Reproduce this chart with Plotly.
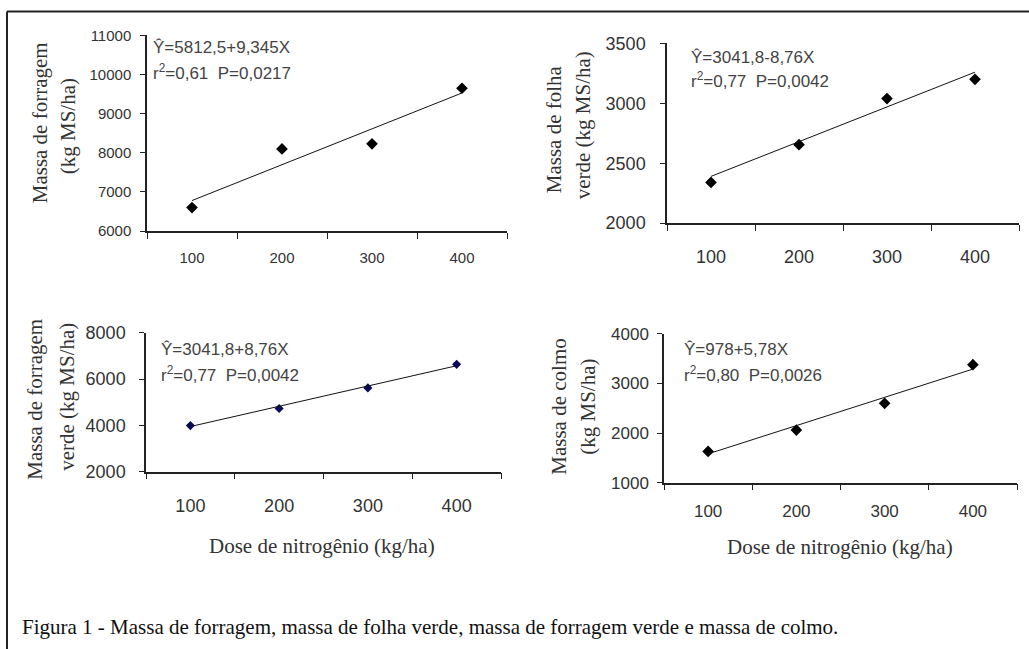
import plotly.graph_objects as go

# ---------------- data ----------------
doses = [100, 200, 300, 400]
massa_forragem = [6600, 8100, 8230, 9650]
massa_folha_verde = [2340, 2655, 3040, 3200]
massa_forragem_verde = [3990, 4730, 5620, 6640]
massa_colmo = [1630, 2060, 2600, 3380]

trend_x = [100, 400]
trend_forragem = [6780, 9530]
trend_folha_verde = [2390, 3260]
trend_forragem_verde = [3950, 6580]
trend_colmo = [1580, 3290]

x_tick_labels = ["100", "200", "300", "400"]

eq_forragem = ["Ŷ=5812,5+9,345X", "r<sup>2</sup>=0,61  P=0,0217"]
eq_folha_verde = ["Ŷ=3041,8-8,76X", "r<sup>2</sup>=0,77  P=0,0042"]
eq_forragem_verde = ["Ŷ=3041,8+8,76X", "r<sup>2</sup>=0,77  P=0,0042"]
eq_colmo = ["Ŷ=978+5,78X", "r<sup>2</sup>=0,80  P=0,0026"]

ytitle_forragem = ["Massa de forragem", "(kg MS/ha)"]
ytitle_folha_verde = ["Massa de folha", "verde (kg MS/ha)"]
ytitle_forragem_verde = ["Massa de forragem", "verde (kg MS/ha)"]
ytitle_colmo = ["Massa de colmo", "(kg MS/ha)"]

caption = "Figura 1 - Massa de forragem, massa de folha verde, massa de forragem verde e massa de colmo."
x_title = "Dose de nitrogênio (kg/ha)"

# ---------------- layout helpers ----------------
W, H = 1029, 649
SANS = "Arial, Liberation Sans, sans-serif"
SERIF = "Times New Roman, Liberation Serif, serif"
AXC = "#222222"

def px(x):
    return x / W

def py(y):
    # target screen pixel -> paper fraction (calibrated vertical mapping)
    return 1 - ((y - 9.5) / 0.971) / H

panels = [
    dict(xa="x", ya="y", box=(147, 507, 35, 231), yr=[6000, 11000], dt=1000,
         y=massa_forragem, t=trend_forragem, mc="#000000", ms=9, fs=15,
         eq=eq_forragem, eqpos=(151, 47, 72),
         yt=ytitle_forragem, ytpos=((40, 123), (68, 126)),
         xst=12, yst=6),
    dict(xa="x2", ya="y2", box=(667, 1019, 43, 223), yr=[2000, 3500], dt=500,
         y=massa_folha_verde, t=trend_folha_verde, mc="#000000", ms=9, fs=18,
         eq=eq_folha_verde, eqpos=(689, 57, 80),
         yt=ytitle_folha_verde, ytpos=((554, 129), (583, 125)),
         xst=17, yst=11),
    dict(xa="x3", ya="y3", box=(146, 501, 333, 472), yr=[2000, 8000], dt=2000,
         y=massa_forragem_verde, t=trend_forragem_verde, mc="#0a0a5a", ms=7, fs=18,
         eq=eq_forragem_verde, eqpos=(159, 350, 374),
         yt=ytitle_forragem_verde, ytpos=((35, 400), (67, 397)),
         xst=17, yst=10),
    dict(xa="x4", ya="y4", box=(664, 1017, 334, 483), yr=[1000, 4000], dt=1000,
         y=massa_colmo, t=trend_colmo, mc="#000000", ms=9, fs=17,
         eq=eq_colmo, eqpos=(682, 350, 374),
         yt=ytitle_colmo, ytpos=((559, 407), (588, 407)),
         xst=12, yst=5),
]

fig = go.Figure()
annotations = []
layout_axes = {}

for i, p in enumerate(panels):
    x0, x1, y0, y1 = p["box"]
    fig.add_trace(go.Scatter(
        x=doses, y=p["y"], mode="markers",
        marker=dict(symbol="diamond", size=p["ms"], color=p["mc"]),
        xaxis=p["xa"], yaxis=p["ya"], showlegend=False, hoverinfo="x+y"))
    fig.add_trace(go.Scatter(
        x=trend_x, y=p["t"], mode="lines",
        line=dict(color="#111111", width=1),
        xaxis=p["xa"], yaxis=p["ya"], showlegend=False, hoverinfo="skip"))

    suffix = "" if i == 0 else str(i + 1)
    layout_axes["xaxis" + suffix] = dict(
        domain=[px(x0), px(x1)], anchor=p["ya"], range=[50, 450],
        tickmode="array", tickvals=doses, ticktext=x_tick_labels, ticks="",
        minor=dict(tickmode="array", tickvals=[50, 150, 250, 350, 450],
                   ticks="outside", ticklen=6, tickcolor=AXC, tickwidth=1),
        showline=True, linecolor=AXC, linewidth=1.5, showgrid=False, zeroline=False,
        tickfont=dict(family=SANS, size=p["fs"], color="#333333"),
        ticklabelstandoff=p["xst"], fixedrange=True)
    layout_axes["yaxis" + suffix] = dict(
        domain=[py(y1), py(y0)], anchor=p["xa"], range=p["yr"], dtick=p["dt"],
        tick0=p["yr"][0], tickformat="d", ticks="outside", ticklen=5,
        tickcolor=AXC, tickwidth=1,
        showline=True, linecolor=AXC, linewidth=1.5, showgrid=False, zeroline=False,
        tickfont=dict(family=SANS, size=p["fs"], color="#333333"),
        ticklabelstandoff=p["yst"], fixedrange=True)

    ex, ey1, ey2 = p["eqpos"]
    for txt, yy in zip(p["eq"], (ey1, ey2)):
        annotations.append(dict(
            x=px(ex), y=py(yy), xref="paper", yref="paper", text=txt,
            showarrow=False, xanchor="left", yanchor="middle",
            font=dict(family=SANS, size=17, color="#444444")))
    for txt, (tx, ty) in zip(p["yt"], p["ytpos"]):
        annotations.append(dict(
            x=px(tx), y=py(ty), xref="paper", yref="paper", text=txt,
            showarrow=False, textangle=-90, xanchor="center", yanchor="middle",
            font=dict(family=SERIF, size=21, color="#333333")))

for cx, cy in ((322, 547), (840, 548)):
    annotations.append(dict(
        x=px(cx), y=py(cy), xref="paper", yref="paper", text=x_title,
        showarrow=False, xanchor="center", yanchor="middle",
        font=dict(family=SERIF, size=21, color="#333333")))

annotations.append(dict(
    x=px(20), y=py(628), xref="paper", yref="paper", text=caption,
    showarrow=False, xanchor="left", yanchor="middle",
    font=dict(family=SERIF, size=21, color="#111111")))

shapes = [
    dict(type="line", xref="paper", yref="paper", x0=px(7), x1=px(1035), y0=py(11), y1=py(11),
         line=dict(color="#222222", width=2)),
    dict(type="line", xref="paper", yref="paper", x0=px(7), x1=px(7), y0=py(11), y1=py(700),
         line=dict(color="#222222", width=2)),
]

fig.update_layout(
    width=W, height=H, margin=dict(l=0, r=0, t=0, b=0),
    paper_bgcolor="white", plot_bgcolor="white",
    annotations=annotations, shapes=shapes, showlegend=False,
    **layout_axes)

fig.write_html(
    "out.html",
    config={"displayModeBar": False},
    post_script="document.body.style.margin='0';document.body.style.overflow='hidden';")
